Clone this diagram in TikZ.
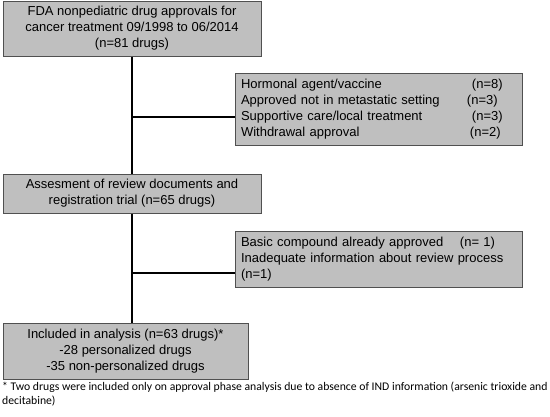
\documentclass[tikz,border=0pt]{standalone}
\usepackage{fontspec}
\setmainfont{Liberation Sans}
\newfontfamily\notefont{Carlito}
\usetikzlibrary{positioning,calc}
\definecolor{boxgray}{RGB}{191,191,191}
\definecolor{boxedge}{RGB}{80,80,80}
\newcommand{\exrow}[3]{\makebox[#1][l]{#2}#3}

\begin{document}
\begin{tikzpicture}[x=1pt,y=-1pt,
	flowbox/.style={draw=boxedge, line width=1pt, fill=boxgray, inner sep=0pt,
		align=center, font=\fontsize{13}{16}\selectfont},
	exclbox/.style={flowbox, align=left, text width=275pt, inner sep=6pt,
		minimum width=287pt},
	link/.style={black, line width=1.2pt}]
	\useasboundingbox (0,0) rectangle (550,416);
	% main flow
	\node[flowbox, minimum width=258pt, minimum height=55pt] (approvals) at (132,28.5)
		{FDA nonpediatric drug approvals for\\cancer treatment 09/1998 to 06/2014\\(n=81 drugs)};
	\node[flowbox, minimum width=258pt, minimum height=39pt] (assessment) at (132,193.5)
		{Assesment of review documents and\\registration trial (n=65 drugs)};
	\node[flowbox, minimum width=245pt, minimum height=56pt] (included) at (125.5,351)
		{Included in analysis (n=63 drugs)*\\-28 personalized drugs\\-35 non-personalized drugs};
	% exclusions
	\node[exclbox, minimum height=71pt] (exclone) at (378.5,109.5)
		{\exrow{231pt}{Hormonal agent/vaccine}{(n=8)}\\
		 \exrow{226pt}{Approved not in metastatic setting}{(n=3)}\\
		 \exrow{231pt}{Supportive care/local treatment}{(n=3)}\\
		 \exrow{229pt}{Withdrawal approval}{(n=2)}};
	\node[exclbox, minimum height=55pt] (excltwo) at (378.5,259.5)
		{\exrow{219pt}{Basic compound already approved}{(n= 1)}\\
		 Inadequate information about review process\\(n=1)};
	% connectors
	\coordinate (splitone) at (132,117);
	\coordinate (splittwo) at (132,273);
	\draw[link] (approvals) -- (assessment);
	\draw[link] (assessment.south) -- (assessment.south |- included.north);
	\draw[link] (splitone) -- (splitone -| exclone.west);
	\draw[link] (splittwo) -- (splittwo -| excltwo.west);
	% footnote
	\node[anchor=north west, inner sep=0pt, align=left,
		font=\notefont\fontsize{11.7}{14}\selectfont] (note) at (2,382)
		{* Two drugs were included only on approval phase analysis due to absence of IND information (arsenic trioxide and\\decitabine)};
\end{tikzpicture}
\end{document}
